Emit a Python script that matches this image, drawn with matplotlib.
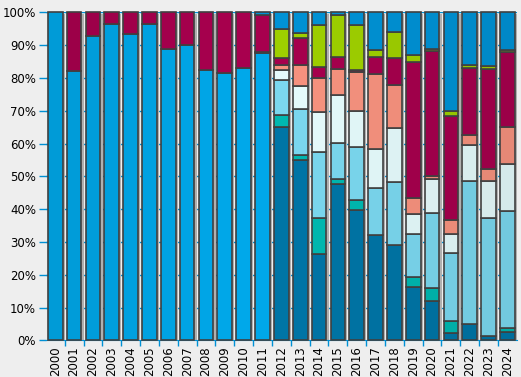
import numpy as np
import matplotlib.pyplot as plt
from matplotlib.colors import to_rgb

years = [str(y) for y in range(2000, 2025)]

# share per year, bottom to top (percent)
base = [100, 82.2, 92.9, 96.5, 93.5, 96.5, 88.9, 90.2, 82.6, 81.4, 83.1, 87.5] + [0] * 13
dark = [0] * 12 + [65.2, 54.9, 26.2, 47.6, 39.9, 32.0, 29.0, 16.2, 11.9, 2.4, 4.9, 1.5, 2.7]
teal = [0] * 12 + [3.4, 1.5, 11.0, 1.5, 2.8, 0, 0, 3.0, 4.0, 3.4, 0, 0, 1.0]
light = [0] * 12 + [10.7, 14.3, 20.1, 11.0, 16.4, 14.6, 19.2, 13.1, 23.1, 21.0, 43.6, 35.7, 35.9]
cyan = [0] * 12 + [3.3, 7.0, 12.2, 14.6, 11.0, 11.9, 16.7, 6.1, 10.1, 5.8, 11.0, 11.3, 14.1]
salmon = [0] * 11 + [0.5, 1.5, 6.4, 10.4, 8.2, 11.6, 22.6, 13.1, 4.9, 0.9, 4.0, 3.0, 3.9, 11.5]
crimson = [0, 17.8, 7.1, 3.5, 6.5, 3.5, 11.1, 9.8, 17.4, 18.6, 16.9, 11.2,
           1.9, 8.0, 3.6, 3.4, 0.9, 5.2, 8.0, 41.5, 38.1, 31.7, 20.7, 30.5, 22.6]
green = [0] * 12 + [9.1, 1.5, 12.8, 12.8, 13.7, 2.4, 7.9, 2.1, 0.9, 1.5, 0.9, 0.9, 0.9]
top = [0] * 11 + [0.8, 4.9, 6.4, 3.7, 0.9, 3.7, 11.3, 6.1, 13.1, 11.0, 30.2, 15.9, 16.2, 11.3]

series = [base, dark, teal, light, cyan, salmon, crimson, green, top]
colors = ['#00A8EA', '#0076A8', '#00BAB2', '#7CDAF2', '#E8FEFF',
          '#FA9480', '#A8004E', '#A0D200', '#0094D8']

bg = '#EEEEEE'
grid_blue = '#0090D4'

data = np.array(series, dtype=float)
data = data / data.sum(axis=0) * 100
x = np.arange(len(years))
width = 0.78


def shade(c, i):
    # soft lighting across the chart: brightest near 2010
    f = 1 - 0.08 * abs(i - 10) / (10 if i < 10 else 14)
    return tuple(np.array(to_rgb(c)) * f)


fig = plt.figure(figsize=(5.21, 3.77), dpi=100, facecolor=bg)
ax = fig.add_axes([0.088, 0.097, 0.904, 0.870], facecolor=bg)

for y in range(10, 101, 10):
    ax.axhline(y, color=grid_blue, lw=1, zorder=0)

ax.bar(x + 0.12, 99.4, width=width, color='#B0B0B0', zorder=1)

bottom = np.zeros(len(years))
for vals, c in zip(data, colors):
    for i in x:
        if vals[i] > 0:
            ax.bar(i, vals[i], width=width, bottom=bottom[i], color=shade(c, i),
                   edgecolor='#404040', linewidth=1.2, zorder=2, clip_on=False)
    bottom += vals

ax.set_xlim(-0.5, len(years) - 0.5)
ax.set_ylim(0, 100)
ax.set_yticks(range(0, 101, 10))
ax.set_yticklabels([f'{v}%' for v in range(0, 101, 10)])
ax.set_xticks(x)
ax.set_xticklabels(years, rotation=90)
ax.set_xticks(x[:-1] + 0.5, minor=True)

for s in ['top', 'right', 'left']:
    ax.spines[s].set_visible(False)
ax.spines['bottom'].set_color(grid_blue)
ax.spines['bottom'].set_zorder(1.5)

ax.tick_params(axis='y', colors=grid_blue, length=5, width=1, labelcolor='black',
               labelsize=8.5, pad=2)
ax.tick_params(axis='x', which='major', length=0, labelsize=8.5, pad=4)
ax.tick_params(axis='x', which='minor', colors=grid_blue, length=4, width=1)
for lab in ax.get_xticklabels() + ax.get_yticklabels():
    lab.set_fontfamily('DejaVu Sans')

fig.savefig('out.png', dpi=100, facecolor=bg)
